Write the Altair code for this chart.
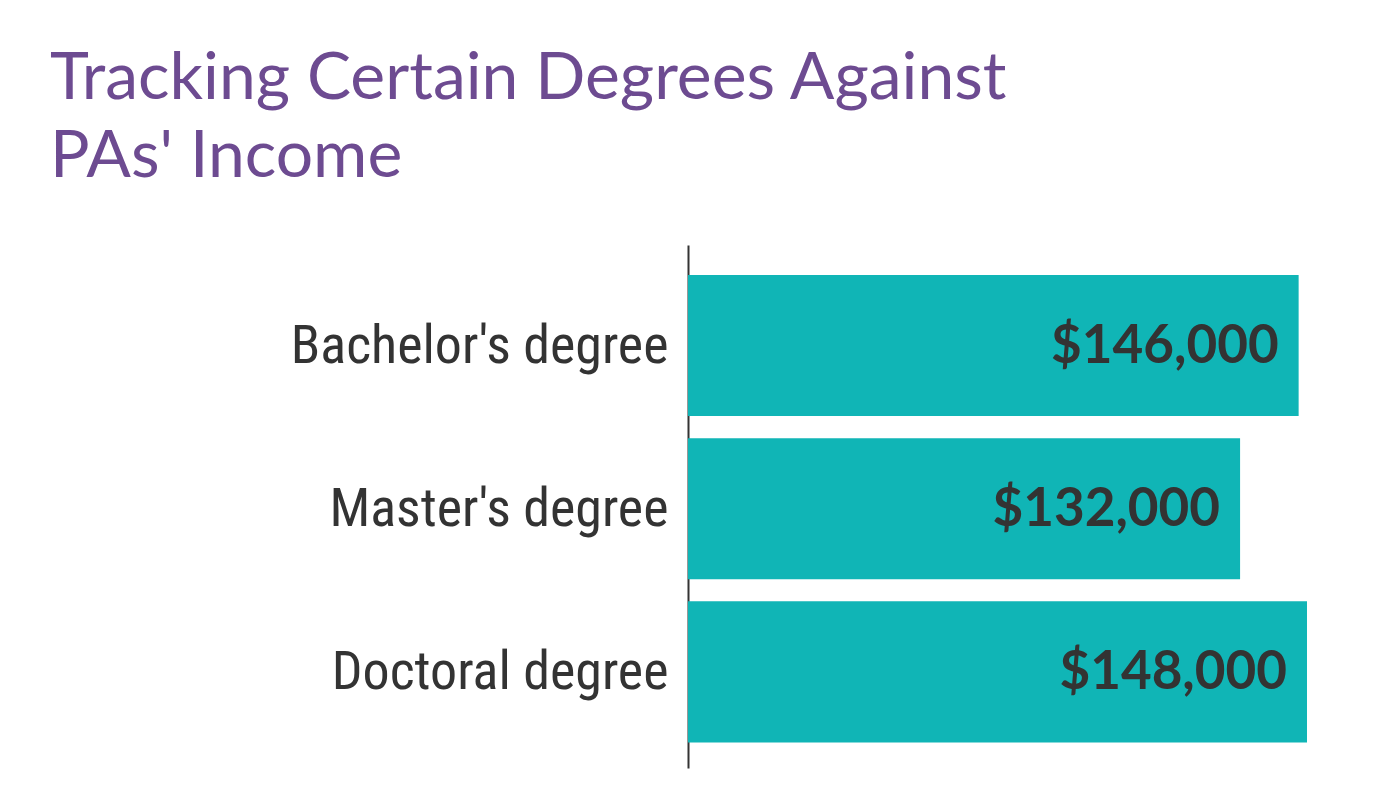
import altair as alt
import pandas as pd

degrees = ["Bachelor's degree", "Master's degree", "Doctoral degree"]
income = [146000, 132000, 148000]

df = pd.DataFrame({'degree': degrees, 'income': income})

teal = '#10b5b6'
purple = '#6d4b91'
dark = '#333333'

y_enc = alt.Y('degree:N', sort=degrees, title=None,
              scale=alt.Scale(paddingInner=0.135, paddingOuter=0.17, align=0.54),
              axis=alt.Axis(domain=True, domainColor=dark, domainWidth=2,
                            ticks=False, labelPadding=20, labelFontSize=54,
                            labelOffset=1,
                            labelFont='Roboto Condensed, Liberation Sans Narrow, Roboto',
                            labelColor=dark, labelLimit=600))
x_enc = alt.X('income:Q', axis=None, title=None,
              scale=alt.Scale(domain=[0, 148000], nice=False, zero=True))

bars = alt.Chart(df).mark_bar(color=teal).encode(x=x_enc, y=y_enc)

labels = alt.Chart(df).mark_text(
    align='right', baseline='middle', dx=-20, dy=1,
    fontSize=53, fontWeight='bold', font='Lato', color=dark
).encode(x=x_enc, y=y_enc, text=alt.Text('income:Q', format='$,.0f'))

chart = (bars + labels).properties(
    width=619,
    height=523,
    autosize=alt.AutoSizeParams(type='none'),
    padding={'left': 680, 'top': 237, 'right': 60, 'bottom': 20},
    title=alt.TitleParams(
        text=["Tracking Certain Degrees Against", "PAs' Income"],
        anchor='start', frame='group', dx=-638, offset=54,
        fontSize=66, lineHeight=78, font='Lato', fontWeight='normal',
        color=purple
    )
).configure_view(stroke=None)

chart.save("out.html", embed_options={"renderer": "svg", "actions": False})
